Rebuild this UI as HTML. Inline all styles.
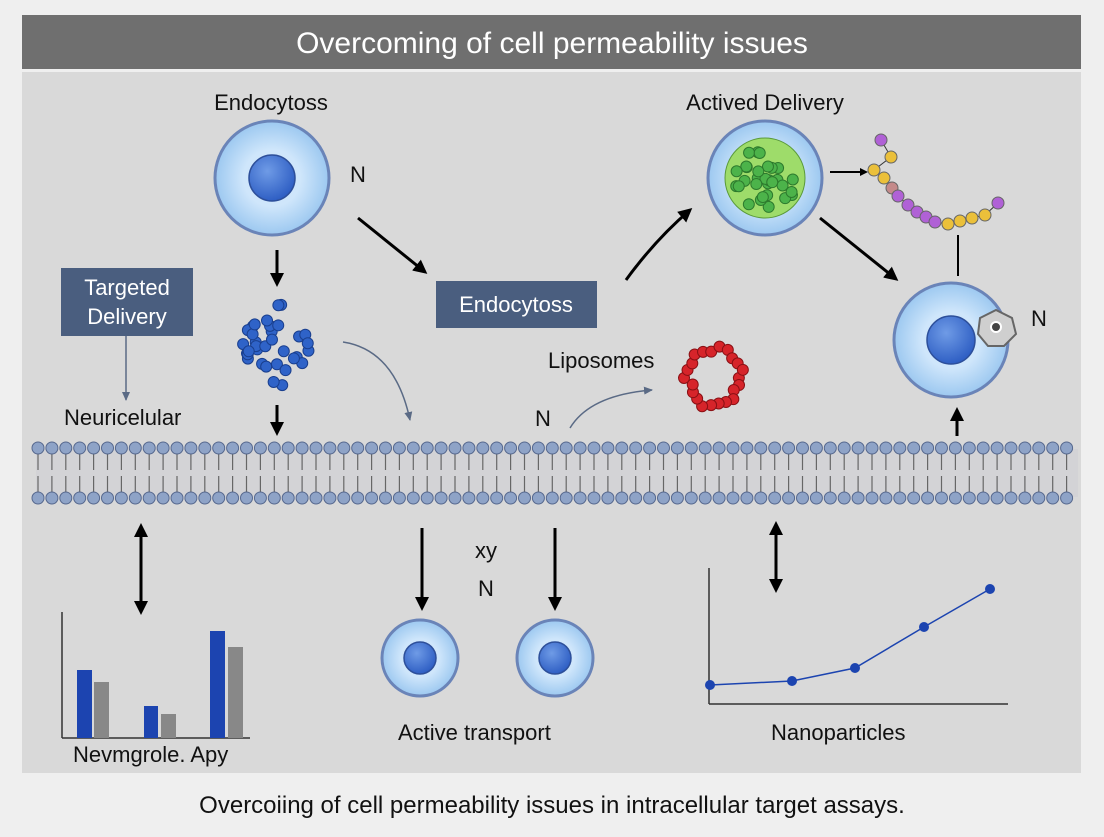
<!DOCTYPE html>
<html><head><meta charset="utf-8"><style>
body{margin:0;width:1104px;height:832px;background:#efefef;font-family:"Liberation Sans",sans-serif;overflow:hidden}
</style></head><body>
<svg id="s" width="1104" height="832" xmlns="http://www.w3.org/2000/svg" font-family="Liberation Sans, sans-serif">
<defs>
<radialGradient id="cell" cx="50%" cy="50%" r="50%"><stop offset="0.5" stop-color="#cfe6fb"/><stop offset="1" stop-color="#9cc8f0"/></radialGradient>
<radialGradient id="nuc" cx="40%" cy="35%" r="65%"><stop offset="0" stop-color="#6f9be6"/><stop offset="1" stop-color="#2f5fc4"/></radialGradient>
<marker id="a" markerWidth="8" markerHeight="8" refX="6" refY="4" orient="auto" markerUnits="userSpaceOnUse"><path d="M0,0 L8,4 L0,8 z" fill="#000"/></marker>
<marker id="ab" markerWidth="14" markerHeight="14" refX="11" refY="7" orient="auto-start-reverse" markerUnits="userSpaceOnUse"><path d="M0,0 L14,7 L0,14 z" fill="#000"/></marker>
<marker id="ag" markerWidth="10" markerHeight="10" refX="8" refY="5" orient="auto" markerUnits="userSpaceOnUse"><path d="M0,1 L9,5 L0,9 z" fill="#5a6a85"/></marker>
</defs>
<rect x="22" y="72" width="1059" height="701" fill="#d9d9d9"/>
<rect x="22" y="15" width="1059" height="54" fill="#6f6f6f"/>
<text x="552" y="53" font-size="30" fill="#fff" text-anchor="middle">Overcoming of cell permeability issues</text>
<text x="552" y="813" font-size="24" fill="#111" text-anchor="middle">Overcoiing of cell permeability issues in intracellular target assays.</text>

<g font-size="22" fill="#111">
<text x="271" y="110" text-anchor="middle">Endocytoss</text>
<text x="765" y="110" text-anchor="middle">Actived Delivery</text>
<text x="350" y="182">N</text>
<text x="64" y="425">Neuricelular</text>
<text x="548" y="368">Liposomes</text>
<text x="535" y="426">N</text>
<text x="475" y="558">xy</text>
<text x="478" y="596">N</text>
<text x="1031" y="326">N</text>
<text x="398" y="740">Active transport</text>
<text x="771" y="740">Nanoparticles</text>
<text x="73" y="762">Nevmgrole. Apy</text>
</g>

<rect x="61" y="268" width="132" height="68" fill="#4a5e7f"/>
<text x="127" y="295" font-size="22" fill="#fff" text-anchor="middle">Targeted</text>
<text x="127" y="324" font-size="22" fill="#fff" text-anchor="middle">Delivery</text>
<rect x="436" y="281" width="161" height="47" fill="#4a5e7f"/>
<text x="516" y="312" font-size="22" fill="#fff" text-anchor="middle">Endocytoss</text>

<g stroke="#6a84b8" stroke-width="3" fill="url(#cell)">
<circle cx="272" cy="178" r="57"/>
<circle cx="765" cy="178" r="57"/>
<circle cx="951" cy="340" r="57"/>
<circle cx="420" cy="658" r="38"/>
<circle cx="555" cy="658" r="38"/>
</g>
<g fill="url(#nuc)" stroke="#2d4f9a" stroke-width="1.5">
<circle cx="272" cy="178" r="23"/><circle cx="951" cy="340" r="24"/>
<circle cx="420" cy="658" r="16"/><circle cx="555" cy="658" r="16"/>
</g>
<circle cx="765" cy="178" r="40" fill="#9edc6a" stroke="#5a9a3a"/>
<polygon points="980,318 996,310 1012,318 1016,334 1004,346 988,346 978,334" fill="#cfcfcf" stroke="#666" stroke-width="2"/>
<circle cx="996" cy="327" r="5" fill="#444" stroke="#fff" stroke-width="2"/>

<g id="dots"></g>

<g stroke="#000" stroke-width="3" fill="none">
<line x1="358" y1="218" x2="425" y2="272" marker-end="url(#ab)"/>
<line x1="277" y1="250" x2="277" y2="284" marker-end="url(#ab)"/>
<line x1="277" y1="405" x2="277" y2="433" marker-end="url(#ab)"/>
<path d="M626,280 Q655,240 690,210" marker-end="url(#ab)"/>
<line x1="820" y1="218" x2="896" y2="279" marker-end="url(#ab)"/>
<line x1="957" y1="436" x2="957" y2="410" marker-end="url(#ab)"/>
<line x1="141" y1="526" x2="141" y2="612" marker-start="url(#ab)" marker-end="url(#ab)"/>
<line x1="422" y1="528" x2="422" y2="608" marker-end="url(#ab)"/>
<line x1="555" y1="528" x2="555" y2="608" marker-end="url(#ab)"/>
<line x1="776" y1="524" x2="776" y2="590" marker-start="url(#ab)" marker-end="url(#ab)"/>
</g>
<line x1="830" y1="172" x2="866" y2="172" stroke="#000" stroke-width="2" marker-end="url(#a)"/>
<line x1="958" y1="276" x2="958" y2="235" stroke="#000" stroke-width="2"/>
<g stroke="#5a6a85" stroke-width="1.5" fill="none">
<line x1="126" y1="336" x2="126" y2="400" marker-end="url(#ag)"/>
<path d="M343,342 Q395,350 410,420" marker-end="url(#ag)"/>
<path d="M570,428 Q590,395 652,390" marker-end="url(#ag)"/>
</g>
<!-- bar chart -->
<g stroke="#333" stroke-width="1.5" fill="none">
<line x1="62" y1="612" x2="62" y2="738"/><line x1="62" y1="738" x2="250" y2="738"/>
</g>
<g>
<rect x="77" y="670" width="15" height="68" fill="#1c44b0"/><rect x="94" y="682" width="15" height="56" fill="#888"/>
<rect x="144" y="706" width="14" height="32" fill="#1c44b0"/><rect x="161" y="714" width="15" height="24" fill="#888"/>
<rect x="210" y="631" width="15" height="107" fill="#1c44b0"/><rect x="228" y="647" width="15" height="91" fill="#888"/>
</g>
<!-- line chart -->
<g stroke="#333" stroke-width="1.5" fill="none">
<line x1="709" y1="568" x2="709" y2="704"/><line x1="709" y1="704" x2="1008" y2="704"/>
</g>
<polyline points="710,685 792,681 855,668 924,627 990,589" fill="none" stroke="#1c44b0" stroke-width="1.5"/>
<g fill="#1c44b0"><circle cx="710" cy="685" r="5"/><circle cx="792" cy="681" r="5"/><circle cx="855" cy="668" r="5"/><circle cx="924" cy="627" r="5"/><circle cx="990" cy="589" r="5"/></g>
<g id="mem"></g>
</svg>
<script>
var ns="http://www.w3.org/2000/svg";
function el(p,t,a){var e=document.createElementNS(ns,t);for(var k in a)e.setAttribute(k,a[k]);p.appendChild(e);return e;}
var m=document.getElementById("mem");
el(m,"rect",{x:36,y:449,width:1042,height:48,fill:"#d3d3d6"});
for(var x=38;x<=1076;x+=13.9){
 el(m,"line",{x1:x,y1:454,x2:x,y2:470,stroke:"#666","stroke-width":1.2});
 el(m,"line",{x1:x,y1:476,x2:x,y2:492,stroke:"#666","stroke-width":1.2});
 el(m,"circle",{cx:x,cy:448,r:6,fill:"#8ea3c7",stroke:"#56688e","stroke-width":1});
 el(m,"circle",{cx:x,cy:498,r:6,fill:"#8ea3c7",stroke:"#56688e","stroke-width":1});
}
var d=document.getElementById("dots");
var s=7;function r(){s=(s*9301+49297)%233280;return s/233280;}
for(var i=0;i<46;i++){var a=r()*6.283,rr=Math.sqrt(r());var dx=rr*Math.cos(a)*48,dy=rr*Math.sin(a)*46;
 if(Math.abs(dx)/48+Math.abs(dy)/46>1.05)continue;
 el(d,"circle",{cx:279+dx,cy:342+dy,r:5.5,fill:"#2f63c8",stroke:"#1a3f8e"});}
for(var i=0;i<30;i++){var a=r()*6.283,rr=Math.sqrt(r())*32;
 el(d,"circle",{cx:765+rr*Math.cos(a),cy:178+rr*Math.sin(a),r:5.5,fill:"#4cb34a",stroke:"#2d7a2d"});}
for(var i=0;i<22;i++){var a=i/22*6.283,rr=22+r()*10;
 el(d,"circle",{cx:715+rr*Math.cos(a),cy:378+rr*Math.sin(a),r:5.5,fill:"#d6242a",stroke:"#8a1014"});}
var ch=[[881,140,"#b061d6"],[891,157,"#ebc03a"],[874,170,"#ebc03a"],[884,178,"#ebc03a"],[892,188,"#c48a8a"],[898,196,"#b061d6"],[908,205,"#b061d6"],[917,212,"#b061d6"],[926,217,"#b061d6"],[935,222,"#b061d6"],[948,224,"#ebc03a"],[960,221,"#ebc03a"],[972,218,"#ebc03a"],[985,215,"#ebc03a"],[998,203,"#b061d6"]];
for(var i=0;i<ch.length;i++){if(i)el(d,"line",{x1:ch[i-1][0],y1:ch[i-1][1],x2:ch[i][0],y2:ch[i][1],stroke:"#333"});}
ch.forEach(function(c){el(d,"circle",{cx:c[0],cy:c[1],r:6,fill:c[2],stroke:"#666"});});
</script>
</body></html>
